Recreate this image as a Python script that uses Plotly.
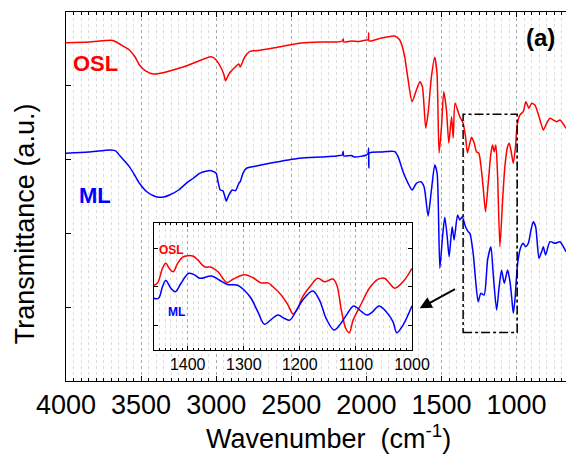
import plotly.graph_objects as go

# ---------------- data (main spectrum) ----------------
osl_wn = [4000, 3850, 3700, 3680, 3620, 3578, 3540, 3511, 3470, 3420, 3380, 3200, 3033, 3000, 2967, 2950,
          2938, 2925, 2911, 2880, 2850, 2840, 2830, 2810, 2778, 2700, 2600, 2444, 2300, 2200, 2160, 2155,
          2150, 2100, 2050, 2000, 1988, 1985, 1982, 1900, 1811, 1778, 1760, 1745, 1722, 1696, 1667, 1644,
          1627, 1605, 1589, 1567, 1545, 1530, 1516, 1500, 1485, 1467, 1451, 1433, 1422, 1410, 1378, 1356,
          1340, 1327, 1300, 1282, 1267, 1251, 1233, 1222, 1207, 1189, 1171, 1160, 1149, 1138, 1127, 1111,
          1093, 1078, 1060, 1049, 1038, 1022, 1007, 996, 978, 956, 938, 918, 900, 878, 844, 822, 800, 778,
          756, 733, 711, 689, 671]
osl_t = [4.584, 4.593, 4.617, 4.607, 4.539, 4.485, 4.390, 4.282, 4.201, 4.160, 4.167, 4.268, 4.394, 4.350,
         4.241, 4.160, 4.069, 4.119, 4.173, 4.241, 4.295, 4.255, 4.295, 4.390, 4.462, 4.485, 4.519, 4.576,
         4.593, 4.593, 4.607, 4.634, 4.593, 4.607, 4.600, 4.621, 4.621, 4.715, 4.607, 4.648, 4.675, 4.621,
         4.526, 4.394, 4.079, 3.785, 3.943, 4.056, 3.988, 3.428, 3.631, 4.123, 4.386, 4.173, 3.089, 3.442,
         3.920, 3.672, 3.225, 3.581, 3.293, 3.767, 3.581, 3.492, 3.310, 3.093, 3.302, 3.221, 3.107, 3.085,
         2.836, 2.611, 2.294, 2.679, 3.085, 3.198, 3.107, 3.198, 2.814, 1.820, 2.453, 2.904, 3.175, 3.221,
         3.130, 2.950, 3.175, 3.469, 3.604, 3.649, 3.785, 3.695, 3.763, 3.740, 3.537, 3.401, 3.492, 3.560,
         3.537, 3.514, 3.537, 3.482, 3.424]

ml_wn = [4000, 3850, 3700, 3670, 3640, 3578, 3540, 3511, 3460, 3400, 3350, 3311, 3250, 3200, 3150, 3111,
         3060, 3033, 3000, 2990, 2973, 2956, 2945, 2933, 2916, 2893, 2871, 2849, 2840, 2822, 2800, 2733,
         2644, 2444, 2300, 2200, 2160, 2155, 2150, 2100, 2080, 2000, 1988, 1985, 1983, 1980, 1900, 1811,
         1789, 1756, 1722, 1696, 1667, 1638, 1616, 1589, 1567, 1545, 1529, 1511, 1493, 1478, 1462, 1449,
         1429, 1416, 1393, 1378, 1362, 1340, 1322, 1311, 1289, 1273, 1256, 1238, 1216, 1193, 1171, 1156,
         1133, 1116, 1100, 1082, 1060, 1044, 1033, 1022, 1011, 993, 971, 956, 940, 922, 904, 889, 873,
         851, 833, 822, 807, 778, 744, 711, 689, 671]
ml_t = [3.085, 3.103, 3.130, 3.117, 3.049, 2.904, 2.778, 2.679, 2.561, 2.497, 2.493, 2.520, 2.588, 2.679,
        2.751, 2.814, 2.846, 2.850, 2.814, 2.724, 2.588, 2.579, 2.520, 2.439, 2.520, 2.588, 2.579, 2.679,
        2.701, 2.814, 2.882, 2.913, 2.950, 3.018, 3.035, 3.049, 3.062, 3.110, 3.049, 3.055, 3.035, 3.062,
        3.089, 3.157, 2.886, 3.089, 3.103, 3.108, 3.040, 2.836, 2.679, 2.588, 2.679, 2.701, 2.633, 2.236,
        2.588, 2.927, 2.814, 1.527, 1.955, 2.218, 1.955, 1.684, 2.091, 1.911, 2.249, 2.182, 2.226, 2.091,
        2.023, 2.001, 1.730, 1.369, 1.075, 1.188, 1.165, 1.640, 1.820, 1.459, 0.962, 1.278, 1.504, 1.324,
        1.504, 1.346, 1.142, 0.917, 1.098, 1.595, 1.820, 1.866, 1.820, 1.866, 2.046, 2.159, 2.091, 1.663,
        1.752, 1.820, 1.707, 1.888, 1.866, 1.888, 1.820, 1.752]

# ---------------- data (inset, 1460-1000 cm-1) ----------------
inset_osl_wn = [1461, 1454, 1445, 1439, 1433, 1426, 1418, 1409, 1400, 1391, 1382, 1370, 1358, 1346, 1330,
                1320, 1299, 1284, 1269, 1257, 1248, 1233, 1221, 1212, 1204, 1195, 1180, 1168, 1156, 1141,
                1134, 1126, 1118, 1112, 1105, 1090, 1076, 1061, 1049, 1040, 1031, 1016, 1000]
inset_osl_t = [2.04, 2.09, 2.48, 2.61, 2.48, 2.39, 2.61, 2.77, 2.81, 2.80, 2.70, 2.52, 2.51, 2.39, 2.11,
               2.19, 2.31, 2.24, 2.10, 2.10, 2.00, 1.78, 1.52, 1.29, 1.43, 1.74, 2.04, 2.22, 2.13, 2.20,
               2.04, 1.39, 0.91, 0.80, 1.13, 1.57, 1.96, 2.19, 2.22, 2.09, 1.96, 2.13, 2.48]
inset_ml_wn = [1461, 1452, 1445, 1439, 1430, 1422, 1412, 1398, 1388, 1378, 1358, 1343, 1329, 1311, 1299,
               1287, 1275, 1263, 1251, 1239, 1227, 1218, 1206, 1195, 1177, 1165, 1153, 1139, 1129, 1117,
               1104, 1090, 1080, 1070, 1059, 1046, 1034, 1027, 1016, 1000]
inset_ml_t = [1.70, 1.70, 2.00, 2.16, 1.96, 1.87, 2.09, 2.35, 2.31, 2.22, 2.28, 2.17, 2.06, 2.04, 1.91,
              1.70, 1.35, 1.02, 1.15, 1.26, 1.17, 1.13, 1.39, 1.65, 1.89, 1.65, 1.17, 0.87, 1.00, 1.26,
              1.50, 1.35, 1.26, 1.35, 1.50, 1.35, 1.09, 0.80, 1.00, 1.50]

RED = "#ff0000"
BLUE = "#0000ff"
FONT = "Liberation Sans, Arial, sans-serif"

fig = go.Figure()
fig.add_trace(go.Scatter(x=osl_wn, y=osl_t, mode="lines", line=dict(color=RED, width=1.5, shape="spline", smoothing=0.6),
                         showlegend=False, xaxis="x", yaxis="y"))
fig.add_trace(go.Scatter(x=ml_wn, y=ml_t, mode="lines", line=dict(color=BLUE, width=1.5, shape="spline", smoothing=0.6),
                         showlegend=False, xaxis="x", yaxis="y"))
fig.add_trace(go.Scatter(x=inset_osl_wn, y=inset_osl_t, mode="lines", line=dict(color=RED, width=1.5, shape="spline"),
                         showlegend=False, xaxis="x2", yaxis="y2"))
fig.add_trace(go.Scatter(x=inset_ml_wn, y=inset_ml_t, mode="lines", line=dict(color=BLUE, width=1.5, shape="spline"),
                         showlegend=False, xaxis="x2", yaxis="y2"))

fig.update_layout(
    width=566, height=460, autosize=False,
    margin=dict(l=66, r=0, t=12, b=79, autoexpand=False),
    paper_bgcolor="white", plot_bgcolor="white",
    font=dict(family=FONT, color="black"),
    xaxis=dict(range=[4000, 671], tickvals=[4000, 3500, 3000, 2500, 2000, 1500, 1000],
               ticks="inside", ticklen=5, tickwidth=1, tickcolor="black",
               showline=True, linecolor="black", linewidth=1, mirror="ticks",
               showgrid=True, gridcolor="#aaaaaa", griddash="dot", gridwidth=1,
               tickfont=dict(size=27, family=FONT), zeroline=False, automargin=False,
               minor=dict(dtick=50, tick0=0, ticks="inside", ticklen=3, tickcolor="black",
                          showgrid=True, gridcolor="#dddddd", griddash="dot", gridwidth=1)),
    yaxis=dict(range=[0, 5], dtick=1, tick0=0, ticks="inside", ticklen=5, tickcolor="black",
               showline=True, linecolor="black", linewidth=1, mirror=False, automargin=False,
               showticklabels=False, showgrid=False, zeroline=False),
    xaxis2=dict(domain=[0.175, 0.692], anchor="y2", range=[1461, 1000], dtick=100, tick0=1000,
                ticks="inside", ticklen=4, tickcolor="black", automargin=False,
                showline=True, linecolor="black", linewidth=1, mirror="ticks",
                showgrid=True, gridcolor="#aaaaaa", griddash="dot",
                tickfont=dict(size=16, family=FONT), zeroline=False,
                minor=dict(dtick=10, tick0=1000, ticks="inside", ticklen=2, tickcolor="black",
                           showgrid=True, gridcolor="#dddddd", griddash="dot")),
    yaxis2=dict(domain=[0.084, 0.429], anchor="x2", range=[0.35, 3.67], tickvals=[1, 2, 3],
                ticks="inside", ticklen=4, tickcolor="black", automargin=False,
                showline=True, linecolor="black", linewidth=1, mirror="ticks",
                showticklabels=False, showgrid=False, zeroline=False),
)

# dash-dot box around 1350-1000 region
fig.add_shape(type="rect", xref="x", yref="y", x0=1356, x1=996, y0=0.657, y1=3.614,
              line=dict(color="black", width=1.5, dash="dashdot"))

# arrow pointing to inset
fig.add_annotation(x=1645, y=0.985, ax=1400, ay=1.256, xref="x", yref="y", axref="x", ayref="y",
                   text="", showarrow=True, arrowhead=2, arrowsize=1.2, arrowwidth=2, arrowcolor="black")

# labels
fig.add_annotation(x=3805, y=4.309, xref="x", yref="y", text="<b>OSL</b>", showarrow=False,
                   font=dict(size=22, color=RED, family=FONT))
fig.add_annotation(x=3805, y=2.507, xref="x", yref="y", text="<b>ML</b>", showarrow=False,
                   font=dict(size=22, color=BLUE, family=FONT))
fig.add_annotation(x=841, y=4.648, xref="x", yref="y", text="<b>(a)</b>", showarrow=False,
                   font=dict(size=24, color="black", family=FONT))
fig.add_annotation(x=1429, y=2.97, xref="x2", yref="y2", text="<b>OSL</b>", showarrow=False,
                   font=dict(size=12, color=RED, family=FONT))
fig.add_annotation(x=1420, y=1.35, xref="x2", yref="y2", text="<b>ML</b>", showarrow=False,
                   font=dict(size=12, color=BLUE, family=FONT))

# axis titles
fig.add_annotation(x=-0.082, y=0.425, xref="paper", yref="paper", text="Transmittance (a.u.)",
                   textangle=-90, showarrow=False, xanchor="center", yanchor="middle",
                   font=dict(size=27, family=FONT))
fig.add_annotation(x=0.524, y=-0.152, xref="paper", yref="paper", text="Wavenumber  (cm<sup>-1</sup>)",
                   showarrow=False, xanchor="center", yanchor="middle",
                   font=dict(size=27, family=FONT))

fig.write_html("out.html", config={"responsive": False})
